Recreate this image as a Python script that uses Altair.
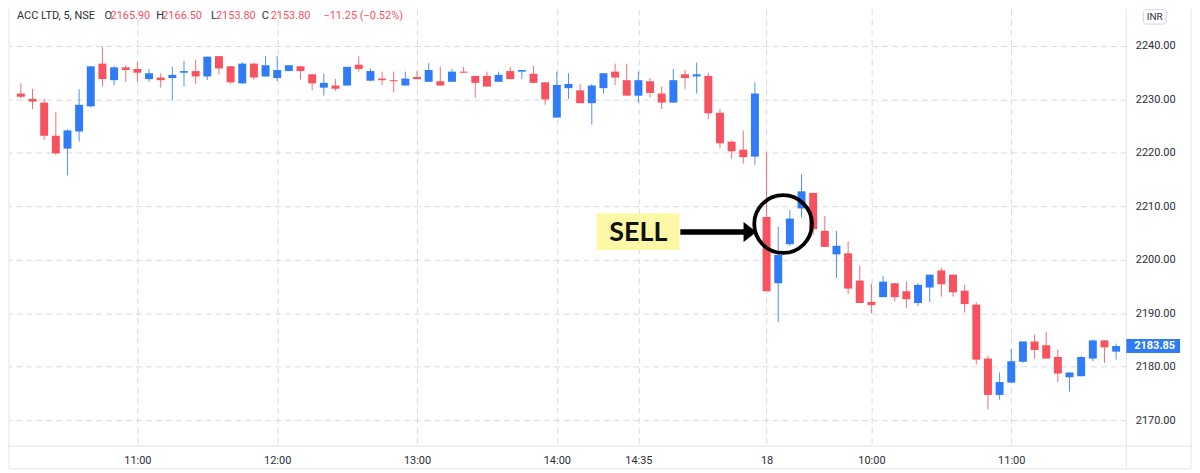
import altair as alt
import pandas as pd

# ---- OHLC data (5-minute candles) ----
opens = [2231.1, 2230.1, 2229.4, 2223.2, 2220.8, 2224.0, 2228.7, 2236.7, 2233.6, 2236.0,
         2235.7, 2233.8, 2234.1, 2234.0, 2235.0, 2235.3, 2234.3, 2238.1, 2236.2, 2233.0,
         2236.7, 2234.3, 2234.0, 2235.3, 2236.2, 2234.7, 2232.2, 2232.6, 2232.6, 2236.5,
         2233.5, 2233.9, 2233.6, 2232.6, 2234.2, 2233.3, 2233.4, 2233.3, 2235.2, 2234.4,
         2234.4, 2233.3, 2235.3, 2235.2, 2234.8, 2233.2, 2226.6, 2232.1, 2231.7, 2229.3,
         2232.1, 2235.2, 2233.6, 2230.7, 2233.4, 2231.1, 2229.4, 2234.7, 2234.3, 2234.4,
         2227.5, 2222.1, 2220.6, 2219.3, 2208.0, 2195.6, 2202.9, 2209.6, 2212.5, 2205.4,
         2201.0, 2201.2, 2196.1, 2192.1, 2193.0, 2195.6, 2194.1, 2191.9, 2194.8, 2198.0,
         2197.2, 2194.2, 2191.6, 2181.5, 2174.7, 2177.0, 2180.9, 2184.7, 2184.0, 2181.8,
         2178.0, 2178.2, 2181.5, 2184.9, 2182.8]
highs = [2233.0, 2232.0, 2230.1, 2227.7, 2224.4, 2231.9, 2236.2, 2239.9, 2236.3, 2236.4,
         2237.0, 2235.7, 2234.9, 2236.1, 2237.2, 2237.4, 2238.0, 2238.1, 2236.2, 2237.0,
         2236.9, 2238.1, 2238.1, 2236.4, 2236.2, 2234.7, 2234.8, 2233.8, 2236.1, 2238.1,
         2235.8, 2235.2, 2235.2, 2235.2, 2235.3, 2236.8, 2236.1, 2235.7, 2236.1, 2234.4,
         2235.2, 2235.2, 2236.1, 2235.5, 2236.3, 2233.2, 2235.2, 2234.9, 2232.9, 2232.9,
         2234.9, 2236.7, 2236.7, 2235.2, 2234.0, 2232.4, 2235.7, 2235.5, 2236.9, 2235.0,
         2228.2, 2222.3, 2224.2, 2233.2, 2220.1, 2206.2, 2209.3, 2216.0, 2212.5, 2208.2,
         2205.4, 2203.4, 2198.9, 2195.5, 2197.0, 2195.6, 2195.9, 2195.6, 2197.2, 2198.5,
         2197.2, 2195.3, 2192.0, 2182.0, 2178.9, 2183.3, 2184.7, 2186.0, 2186.5, 2183.2,
         2178.9, 2182.0, 2185.1, 2184.9, 2184.3]
lows = [2230.2, 2228.2, 2222.4, 2219.6, 2215.8, 2222.1, 2228.5, 2232.4, 2232.6, 2233.3,
        2233.3, 2233.3, 2232.2, 2229.8, 2232.4, 2232.9, 2233.6, 2234.7, 2232.9, 2232.9,
        2233.7, 2234.3, 2233.4, 2235.3, 2233.7, 2231.7, 2230.7, 2231.6, 2232.6, 2235.2,
        2233.4, 2232.7, 2231.3, 2232.6, 2233.8, 2233.3, 2232.6, 2233.3, 2235.0, 2230.3,
        2232.4, 2233.3, 2233.8, 2233.8, 2233.1, 2229.0, 2226.6, 2230.1, 2229.3, 2225.3,
        2231.1, 2232.7, 2230.7, 2229.4, 2230.4, 2228.2, 2229.4, 2231.9, 2231.1, 2226.3,
        2220.9, 2218.9, 2218.0, 2217.8, 2194.1, 2188.3, 2202.6, 2207.9, 2204.7, 2202.4,
        2196.6, 2193.6, 2191.9, 2190.0, 2193.0, 2192.2, 2191.0, 2191.3, 2192.1, 2193.1,
        2193.1, 2190.1, 2180.4, 2172.0, 2173.8, 2177.0, 2180.7, 2181.5, 2181.5, 2177.1,
        2175.3, 2178.2, 2181.0, 2180.7, 2181.3]
closes = [2230.5, 2229.6, 2223.2, 2219.9, 2224.2, 2229.0, 2236.2, 2233.8, 2236.0, 2235.5,
          2235.0, 2234.9, 2233.6, 2234.6, 2235.3, 2234.3, 2238.0, 2235.8, 2233.2, 2236.7,
          2234.1, 2236.4, 2235.5, 2236.4, 2235.3, 2233.0, 2233.1, 2232.0, 2236.1, 2235.7,
          2235.3, 2233.6, 2233.4, 2233.9, 2233.8, 2235.5, 2232.6, 2235.2, 2235.0, 2233.1,
          2232.4, 2234.6, 2233.8, 2235.5, 2233.1, 2230.0, 2232.7, 2232.9, 2229.3, 2232.6,
          2234.9, 2234.1, 2230.7, 2233.6, 2231.2, 2229.4, 2233.6, 2234.0, 2234.7, 2227.4,
          2221.8, 2220.3, 2219.2, 2231.1, 2194.1, 2200.9, 2207.7, 2212.8, 2205.7, 2202.4,
          2202.6, 2194.6, 2191.9, 2191.5, 2195.9, 2193.0, 2192.6, 2195.3, 2197.2, 2195.4,
          2193.9, 2191.7, 2181.3, 2174.7, 2177.1, 2181.0, 2184.7, 2183.1, 2181.5, 2178.7,
          2178.9, 2181.8, 2184.9, 2183.6, 2183.85]

tick_positions = [10, 22, 34, 46, 53, 64, 73, 85]
tick_labels = ["11:00", "12:00", "13:00", "14:00", "14:35", "18", "10:00", "11:00"]
price_ticks = [2170, 2180, 2190, 2200, 2210, 2220, 2230, 2240]
last_price = 2183.85
currency = "INR"
symbol_title = "ACC LTD, 5, NSE"
header_labels = ["O", "H", "L", "C"]
header_values = ["2165.90", "2166.50", "2153.80", "2153.80"]
header_change = "\u221211.25 (\u22120.52%)"
signal_text = "SELL"

# ---- styling ----
UP = "#2f7cf6"
DOWN = "#f7525f"
GRID = "#d7dae0"
BORDER = "#e0e3eb"
TXT = "#2a2e39"
FONT = "Roboto"

W, H = 1123, 439
X_DOMAIN = [-0.592, 94.45]
Y_DOMAIN = [2165.15, 2246.89]
PX_PER_UNIT = H / (Y_DOMAIN[1] - Y_DOMAIN[0])

df = pd.DataFrame({"i": list(range(len(opens))), "open": opens, "high": highs,
                   "low": lows, "close": closes})
df["dir"] = ["up" if c >= o else "down" for o, c in zip(opens, closes)]

expr = "''"
for p, lab in reversed(list(zip(tick_positions, tick_labels))):
    expr = f"datum.value == {p} ? '{lab}' : ({expr})"

xscale = alt.Scale(domain=X_DOMAIN, nice=False, zero=False)
yscale = alt.Scale(domain=Y_DOMAIN, nice=False, zero=False)

x_enc = alt.X("i:Q", scale=xscale, title=None,
              axis=alt.Axis(values=tick_positions, labelExpr=expr, grid=True,
                            gridDash=[6, 4], gridColor=GRID, gridWidth=1,
                            ticks=False, domain=False, labelFont=FONT,
                            labelFontSize=11, labelColor=TXT, labelPadding=9,
                            labelFlush=False, labelOverlap=False))
color_enc = alt.Color("dir:N", scale=alt.Scale(domain=["up", "down"], range=[UP, DOWN]),
                      legend=None)

base = alt.Chart(df)

wicks = base.mark_rule(strokeWidth=1, opacity=0.85).encode(
    x=x_enc,
    y=alt.Y("low:Q", scale=yscale, title=None,
            axis=alt.Axis(orient="right", values=price_ticks, format=".2f", grid=True,
                          gridDash=[6, 4], gridColor=GRID, ticks=False, domain=False,
                          labelFont=FONT, labelFontSize=11, labelColor=TXT,
                          labelPadding=9, labelAlign="left")),
    y2="high:Q",
    color=color_enc,
)

bodies = base.transform_calculate(
    lo="min(datum.open, datum.close)",
    hi="max(max(datum.open, datum.close), min(datum.open, datum.close) + 0.2)",
).mark_bar(size=8).encode(
    x="i:Q",
    y="lo:Q",
    y2="hi:Q",
    color=color_enc,
)

# ---- annotation: SELL label, arrow, circle ----
ann = alt.Chart(pd.DataFrame({"a": [0]}))
sell_box = ann.mark_rect(color="#fcf8a6").encode(
    x=alt.datum(49.42), x2=alt.datum(56.53), y=alt.datum(2208.72), y2=alt.datum(2201.83))
sell_text = ann.mark_text(text=signal_text, font="Lato", fontWeight="bold",
                          fontSize=27, color="#111111", align="center",
                          baseline="middle", dy=1).encode(
    x=alt.datum(53.0), y=alt.datum(2205.18))
arrow_shaft = ann.mark_rule(strokeWidth=5.5, color="#000000").encode(
    x=alt.datum(56.6), x2=alt.datum(62.3), y=alt.datum(2205.18))
arrow_head = ann.mark_point(shape="M-0.65,-1L0.65,0L-0.65,1Z", size=400, filled=True,
                            color="#000000", opacity=1).encode(
    x=alt.datum(62.58), y=alt.datum(2205.18))
circle = ann.mark_point(shape="circle", size=3364, filled=False, strokeWidth=3.8,
                        color="#000000", opacity=1).encode(
    x=alt.datum(65.42), y=alt.datum(2206.67))

# ---- price tag and currency box on the right axis ----
half = 7 / PX_PER_UNIT
tag = ann.mark_rect(color=UP).encode(
    x=alt.value(W), x2=alt.value(W + 54),
    y=alt.datum(last_price + half), y2=alt.datum(last_price - half))
tag_text = ann.mark_text(text=f"{last_price:.2f}", font=FONT, fontSize=11,
                         fontWeight="bold", color="white", align="left",
                         baseline="middle").encode(
    x=alt.value(W + 8), y=alt.datum(last_price))
inr_box = ann.mark_rect(fill="white", stroke="#d1d4dc", strokeWidth=1, cornerRadius=3).encode(
    x=alt.value(1140), x2=alt.value(1163), y=alt.value(0.5), y2=alt.value(15))
inr_text = ann.mark_text(text=currency, font=FONT, fontSize=10, color=TXT,
                         align="center", baseline="middle").encode(
    x=alt.value(1151.5), y=alt.value(8))

# ---- frame lines ----
frame = [
    ann.mark_rule(color=BORDER, strokeWidth=1).encode(x=alt.value(0), y=alt.value(0), y2=alt.value(462)),
    ann.mark_rule(color=BORDER, strokeWidth=1).encode(x=alt.value(0), x2=alt.value(1188), y=alt.value(H)),
    ann.mark_rule(color=BORDER, strokeWidth=1).encode(x=alt.value(W), y=alt.value(0), y2=alt.value(462)),
    ann.mark_rule(color=BORDER, strokeWidth=1).encode(x=alt.value(0), x2=alt.value(1188), y=alt.value(462)),
    ann.mark_rule(color=BORDER, strokeWidth=1).encode(x=alt.value(1188), y=alt.value(0), y2=alt.value(462)),
]

# ---- header legend text ----
HF = 11
header_x_title = 8
header_label_x = [96, 148, 203, 254]
header_value_x = [102, 154, 208, 263]
header_change_x = 316
header = [ann.mark_text(text=symbol_title, font=FONT, fontSize=HF, color=TXT,
                        align="left", baseline="middle").encode(
    x=alt.value(header_x_title), y=alt.value(7))]
for lab, val, lx, vx in zip(header_labels, header_values, header_label_x, header_value_x):
    header.append(ann.mark_text(text=lab, font=FONT, fontSize=HF, color=TXT,
                                align="left", baseline="middle").encode(
        x=alt.value(lx), y=alt.value(7)))
    header.append(ann.mark_text(text=val, font=FONT, fontSize=HF, color=DOWN,
                                align="left", baseline="middle").encode(
        x=alt.value(vx), y=alt.value(7)))
header.append(ann.mark_text(text=header_change, font=FONT, fontSize=HF, color=DOWN,
                            align="left", baseline="middle").encode(
    x=alt.value(header_change_x), y=alt.value(7)))

chart = alt.layer(
    wicks, bodies, *frame, sell_box, sell_text, arrow_shaft, arrow_head, circle,
    tag, tag_text, inr_box, inr_text, *header
).properties(
    width=W, height=H,
    autosize=alt.AutoSizeParams(type="none"),
    padding={"left": 1, "top": 0, "right": 66, "bottom": 24},
    background="white",
).configure_view(stroke=None)

chart.save("out.html", embed_options={"renderer": "svg", "actions": False})
